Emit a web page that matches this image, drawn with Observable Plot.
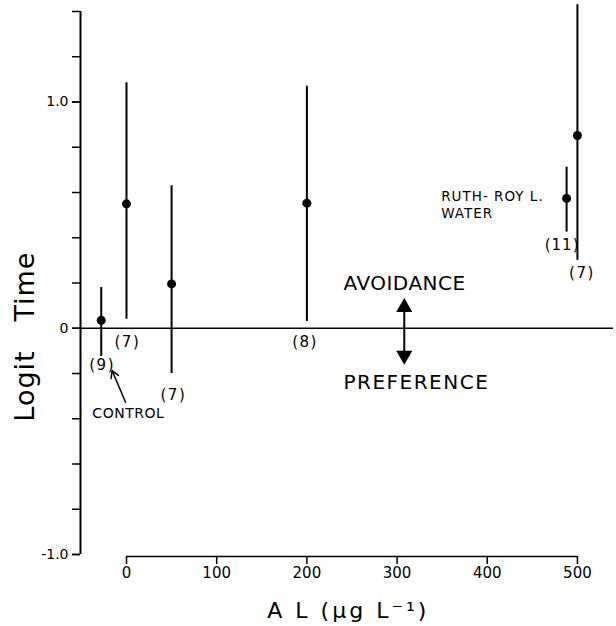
<!DOCTYPE html>
<html><head><meta charset="utf-8">
<script src="https://cdn.jsdelivr.net/npm/d3@7"></script>
<script src="https://cdn.jsdelivr.net/npm/@observablehq/plot@0.6"></script>
<style>body{margin:0;background:#fff} svg{font-family:"DejaVu Sans",sans-serif}</style>
</head><body><div id="chart"></div>
<script>
// Data
const concentrations = [-28, 0, 50, 200, 488, 500];
const means = [0.035, 0.55, 0.196, 0.553, 0.574, 0.852];
const lows = [-0.125, 0.04, -0.2, 0.03, 0.425, 0.30];
const highs = [0.18, 1.085, 0.63, 1.07, 0.712, 1.43];
const sampleSizes = ["(9)", "(7)", "(7)", "(8)", "(11)", "(7)"];
const sizeLabelX = [-27, 1, 52, 198, 483, 505];
const sizeLabelY = [-0.165, -0.062, -0.298, -0.062, 0.366, 0.242];
const xTicks = [0, 100, 200, 300, 400, 500];
const yLabelTicks = [-1, 0, 1];
const yMinorTicks = d3.range(-5, 8).map(i => i / 5);

const data = concentrations.map((x, i) => ({
  x, y: means[i], lo: lows[i], hi: highs[i], n: sampleSizes[i], lx: sizeLabelX[i], ly: sizeLabelY[i]
}));

const chart = Plot.plot({
  width: 616, height: 626,
  marginLeft: 80, marginRight: 3, marginTop: 11, marginBottom: 72,
  x: {domain: [-51, 540]},
  y: {domain: [-1, 1.4]},
  style: {fontFamily: "DejaVu Sans, sans-serif", color: "black", background: "white"},
  marks: [
    // y axis line
    Plot.ruleX([{x: -51, y1: -1, y2: 1.4}], {x: "x", y1: "y1", y2: "y2", strokeWidth: 2}),
    Plot.axisY({ticks: yMinorTicks, tickSize: 8, tickFormat: () => "", label: null, strokeWidth: 1.5}),
    Plot.axisY({ticks: yLabelTicks, tickSize: 8, tickPadding: 4, fontSize: 14, label: null, strokeWidth: 1.5,
      tickFormat: d => d === 0 ? "0" : d.toFixed(1)}),
    // x axis line (0..500)
    Plot.ruleY([{y: -1, x1: 0, x2: 500}], {y: "y", x1: "x1", x2: "x2", dy: 2, strokeWidth: 1.5}),
    Plot.axisX({ticks: xTicks, tickSize: 8, tickPadding: 3, fontSize: 15, dy: 2, label: null, strokeWidth: 1.5}),
    // zero line
    Plot.ruleY([0], {strokeWidth: 1.5}),
    // error bars and means
    Plot.ruleX(data, {x: "x", y1: "lo", y2: "hi", strokeWidth: 2}),
    Plot.dot(data, {x: "x", y: "y", r: 4.5, fill: "black"}),
    Plot.text(data, {x: "lx", y: "ly", text: "n", fontSize: 15}),
    // annotations
    Plot.text([{x: 2, y: -0.377, t: "CONTROL"}], {x: "x", y: "y", text: "t", fontSize: 14}),
    Plot.arrow([{x1: -1, y1: -0.327, x2: -16, y2: -0.187}], {x1: "x1", y1: "y1", x2: "x2", y2: "y2", strokeWidth: 1.5, headLength: 8}),
    Plot.text([{x: 349, y: 0.582, t: "RUTH- ROY L."}, {x: 349, y: 0.505, t: "WATER"}],
      {x: "x", y: "y", text: "t", textAnchor: "start", fontSize: 13.5}),
    Plot.text([{x: 240.6, y: 0.196, t: "AVOIDANCE"}], {x: "x", y: "y", text: "t", textAnchor: "start", fontSize: 20}),
    Plot.text([{x: 240.6, y: -0.24, t: "PREFERENCE"}], {x: "x", y: "y", text: "t", textAnchor: "start", fontSize: 20}),
    Plot.ruleX([{x: 308, y1: -0.13, y2: 0.10}], {x: "x", y1: "y1", y2: "y2", strokeWidth: 2}),
    Plot.dot([{x: 308, y: 0.092}], {x: "x", y: "y", symbol: "triangle", r: 6, fill: "black"}),
    Plot.dot([{x: 308, y: -0.12}], {x: "x", y: "y", symbol: "triangle", r: 6, fill: "black", rotate: 180}),
    // axis titles
    Plot.text([{x: -51, y: -0.037, t: "Logit   Time"}], {x: "x", y: "y", text: "t", dx: -55, rotate: -90, fontSize: 27}),
    Plot.text([{x: 246, y: -1, t: "A L (µg L⁻¹)"}], {x: "x", y: "y", text: "t", dy: 56, fontSize: 22})
  ]
});
// letter spacing to match the wide lettering of the original
const spacing = {"A L (µg L⁻¹)": 3, "Logit   Time": 1, "PREFERENCE": 1.5, "AVOIDANCE": 0.5,
  "RUTH- ROY L.": 1, "WATER": 1, "CONTROL": 0.5, "(7)": 1.5, "(9)": 1.5, "(8)": 1.5, "(11)": 1};
d3.select(chart).selectAll("text").each(function() {
  const s = spacing[this.textContent];
  if (s) this.setAttribute("letter-spacing", s);
});
document.getElementById("chart").appendChild(chart);
</script></body></html>
